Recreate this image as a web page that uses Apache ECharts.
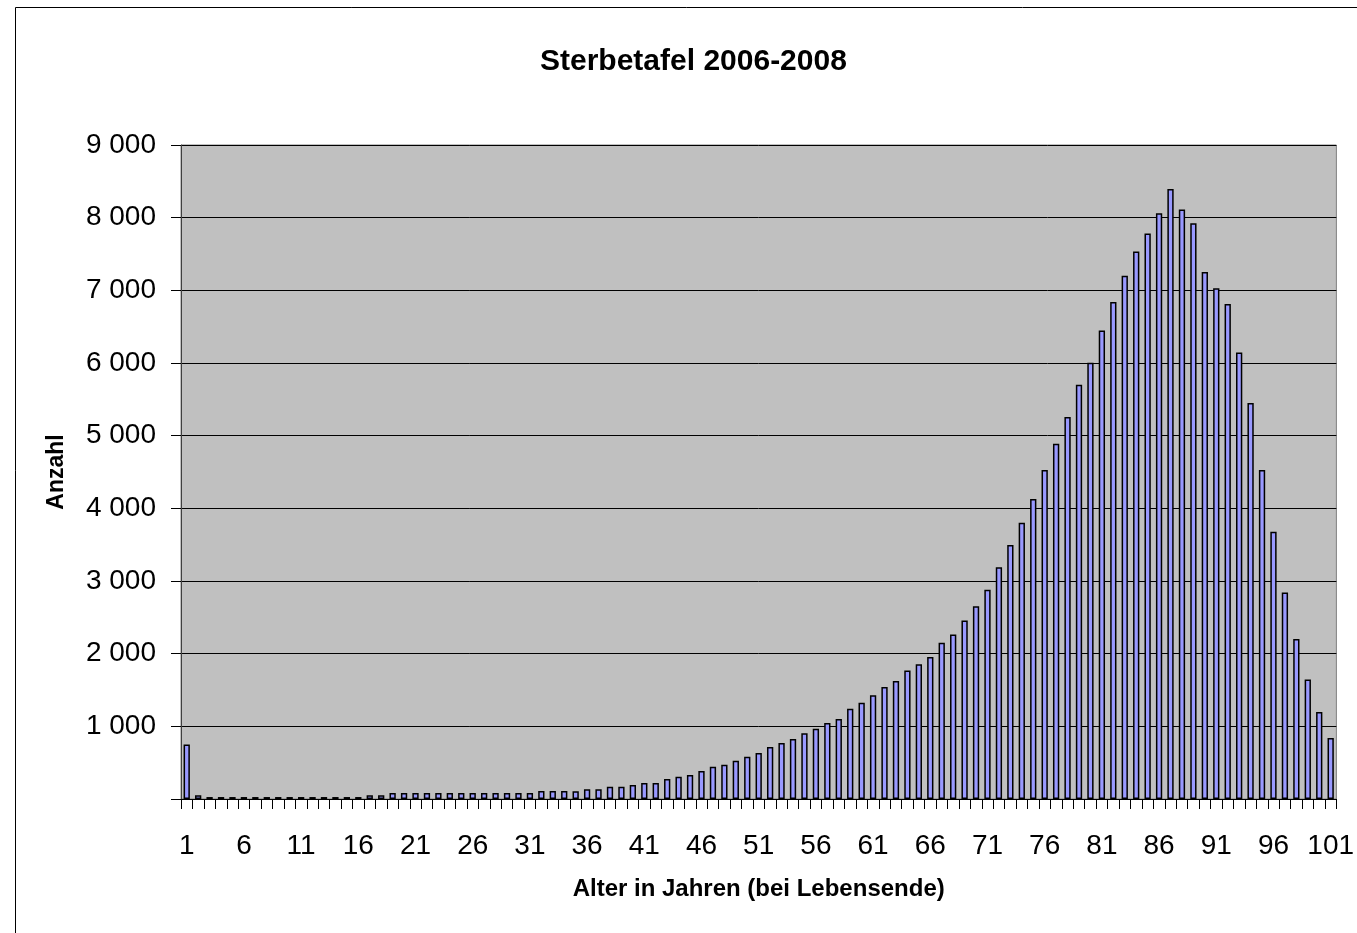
<!DOCTYPE html>
<html>
<head>
<meta charset="utf-8">
<script src="https://cdn.jsdelivr.net/npm/echarts@6/dist/echarts.min.js"></script>
<style>
  html, body { margin: 0; padding: 0; background: #ffffff; }
  #chart { width: 1357px; height: 933px; }
</style>
</head>
<body>
<div id="chart"></div>
<script>
const titleText = 'Sterbetafel 2006-2008';
const xAxisName = 'Alter in Jahren (bei Lebensende)';
const yAxisName = 'Anzahl';

const ages = [
  '1','2','3','4','5','6','7','8','9','10',
  '11','12','13','14','15','16','17','18','19','20',
  '21','22','23','24','25','26','27','28','29','30',
  '31','32','33','34','35','36','37','38','39','40',
  '41','42','43','44','45','46','47','48','49','50',
  '51','52','53','54','55','56','57','58','59','60',
  '61','62','63','64','65','66','67','68','69','70',
  '71','72','73','74','75','76','77','78','79','80',
  '81','82','83','84','85','86','87','88','89','90',
  '91','92','93','94','95','96','97','98','99','100',
  '101'
];

const deathsAge1to20 = [
  750, 50, 27, 27, 27, 27, 27, 27, 27, 27,
  27, 27, 27, 27, 27, 27, 50, 50, 82, 82
];
const deathsAge21to40 = [
  82, 82, 82, 82, 82, 82, 82, 82, 82, 82,
  82, 110, 110, 110, 108, 133, 133, 169, 169, 192
];
const deathsAge41to60 = [
  220, 220, 275, 307, 330, 385, 444, 472, 527, 580,
  632, 717, 772, 826, 904, 968, 1046, 1100, 1242, 1324
];
const deathsAge61to80 = [
  1429, 1543, 1625, 1767, 1854, 1954, 2151, 2265, 2457, 2653,
  2881, 3190, 3496, 3800, 4130, 4529, 4888, 5258, 5701, 6004
];
const deathsAge81to101 = [
  6447, 6840, 7199, 7535, 7782, 8062, 8393, 8112, 7922, 7254,
  7030, 6812, 6144, 5448, 4529, 3677, 2841, 2201, 1646, 1197,
  838
];

const deaths = [].concat(deathsAge1to20, deathsAge21to40, deathsAge41to60, deathsAge61to80, deathsAge81to101);

function fmtThousands(v) {
  if (v === 0) return '';
  return String(v).replace(/\B(?=(\d{3})+(?!\d))/g, ' ');
}

const chart = echarts.init(document.getElementById('chart'), null, { renderer: 'canvas' });
const FONT = '"Liberation Sans", Arial, sans-serif';

chart.setOption({
  animation: false,
  backgroundColor: '#ffffff',
  textStyle: { fontFamily: FONT },
  title: {
    text: titleText,
    left: 535,
    top: 42,
    textStyle: { fontFamily: FONT, fontSize: 30, fontWeight: 'bold', color: '#000000' }
  },
  graphic: [{
    type: 'rect',
    left: 13, top: 5,
    shape: { width: 1500, height: 1100 },
    style: { fill: 'none', stroke: '#000000', lineWidth: 1 },
    silent: true,
    z: 100
  }],
  grid: {
    left: 181, top: 145, right: 15, bottom: 134,
    show: true,
    backgroundColor: '#C0C0C0',
    borderColor: '#808080',
    borderWidth: 1,
    containLabel: false
  },
  xAxis: {
    type: 'category',
    data: ages,
    boundaryGap: true,
    name: xAxisName,
    nameLocation: 'middle',
    nameGap: 78,
    nameTextStyle: { fontFamily: FONT, fontSize: 24, fontWeight: 'bold', color: '#000000' },
    axisLine: { show: true, lineStyle: { color: '#000000', width: 1 } },
    axisTick: { show: true, interval: 0, length: 10, alignWithLabel: false, lineStyle: { color: '#000000' } },
    axisLabel: {
      interval: 4, margin: 33,
      fontFamily: FONT, fontSize: 28, color: '#000000',
      showMinLabel: true, showMaxLabel: true, hideOverlap: false
    },
    splitLine: { show: false }
  },
  yAxis: {
    type: 'value',
    min: 0, max: 9000, interval: 1000,
    name: yAxisName,
    nameLocation: 'middle',
    nameGap: 113,
    nameRotate: 90,
    nameTextStyle: { fontFamily: FONT, fontSize: 23, fontWeight: 'bold', color: '#000000' },
    axisLine: { show: true, lineStyle: { color: '#404040', width: 1 } },
    axisTick: { show: true, length: 10, lineStyle: { color: '#000000' } },
    axisLabel: {
      margin: 25,
      fontFamily: FONT, fontSize: 28, color: '#000000',
      formatter: fmtThousands
    },
    splitLine: { show: true, lineStyle: { color: '#000000', width: 1 } }
  },
  series: [{
    type: 'bar',
    data: deaths,
    barWidth: '55%',
    itemStyle: { color: '#9999FF', borderColor: '#000000', borderWidth: 1.5 }
  }]
});
</script>
</body>
</html>
